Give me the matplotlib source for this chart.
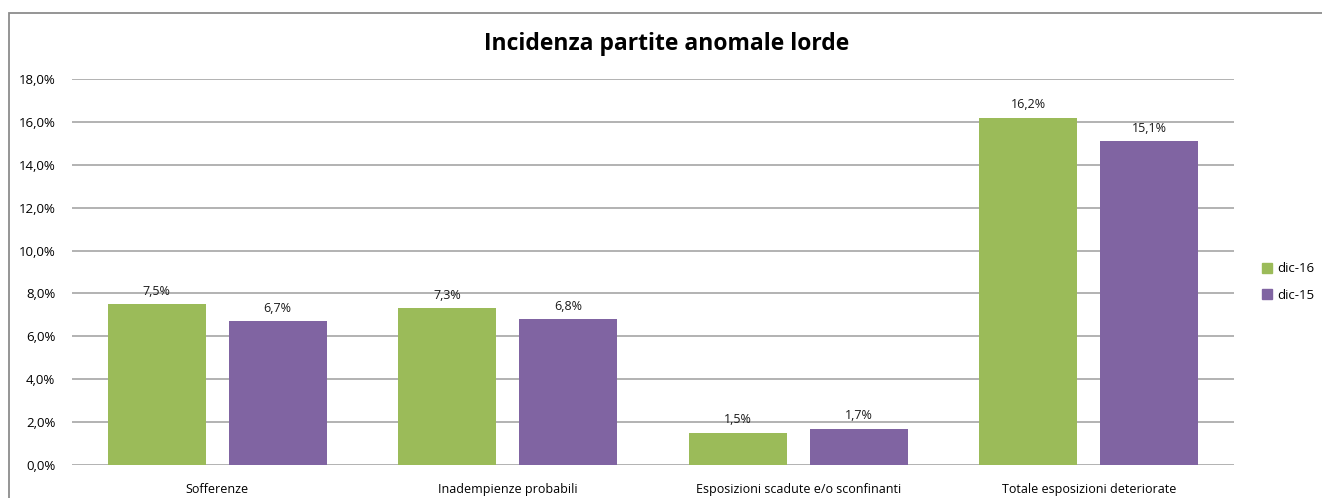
import matplotlib
matplotlib.use("Agg")
import matplotlib.pyplot as plt
from matplotlib.patches import Rectangle, Patch
import numpy as np

categories = ["Sofferenze", "Inadempienze probabili", "Esposizioni scadute e/o sconfinanti", "Totale esposizioni deteriorate"]
dic16 = [7.5, 7.3, 1.5, 16.2]
dic15 = [6.7, 6.8, 1.7, 15.1]
series_names = ["dic-16", "dic-15"]
yticks = [0, 2, 4, 6, 8, 10, 12, 14, 16, 18]

green = "#9BBB59"
purple = "#8064A2"
plt.rcParams['font.family'] = ['Open Sans', 'DejaVu Sans']

fig = plt.figure(figsize=(13.22, 4.98), dpi=100)
fig.patches.append(Rectangle((9/1322, -0.1), 1.2, 1 - 13/498 + 0.1, transform=fig.transFigure,
                             fill=False, edgecolor="#8C8C8C", linewidth=1.3))
ax = fig.add_axes([72/1322, 1 - 465/498, (1234 - 72)/1322, (465 - 79)/498])

x = np.arange(len(categories))
w = 0.337
off = 0.208
b1 = ax.bar(x - off, dic16, w, color=green, zorder=3, label=series_names[0])
b2 = ax.bar(x + off, dic15, w, color=purple, zorder=3, label=series_names[1])

for bars, vals in ((b1, dic16), (b2, dic15)):
    for b, v in zip(bars, vals):
        ax.text(b.get_x() + b.get_width()/2, v + 0.3, f"{v:.1f}%".replace(".", ","),
                ha="center", va="bottom", fontsize=9, color="#1a1a1a")

ax.set_xlim(-0.5, len(categories) - 0.5)
ax.set_ylim(0, 18)
ax.set_yticks(yticks)
ax.set_yticklabels([f"{t:.1f}%".replace(".", ",") for t in yticks], fontsize=9.5)
ax.set_xticks(x)
ax.set_xticklabels(categories, fontsize=9)
ax.tick_params(axis="y", length=0, pad=12)
ax.tick_params(axis="x", length=0, pad=13)
ax.grid(axis="y", color="#A6A6A6", linewidth=1.2, zorder=0)
for s in ax.spines.values():
    s.set_visible(False)

fig.text(667/1322, 1 - 44/498, "Incidenza partite anomale lorde",
         ha="center", va="center", fontsize=16.5, fontweight="bold")

handles = [Patch(color=green), Patch(color=purple)]
fig.legend(handles, series_names, loc="center left", bbox_to_anchor=(1250/1322, 1 - 282/498),
           frameon=False, fontsize=9.5, handlelength=0.8, handleheight=0.8, handletextpad=0.4,
           labelspacing=1.0)

fig.savefig("out.png", dpi=100)
